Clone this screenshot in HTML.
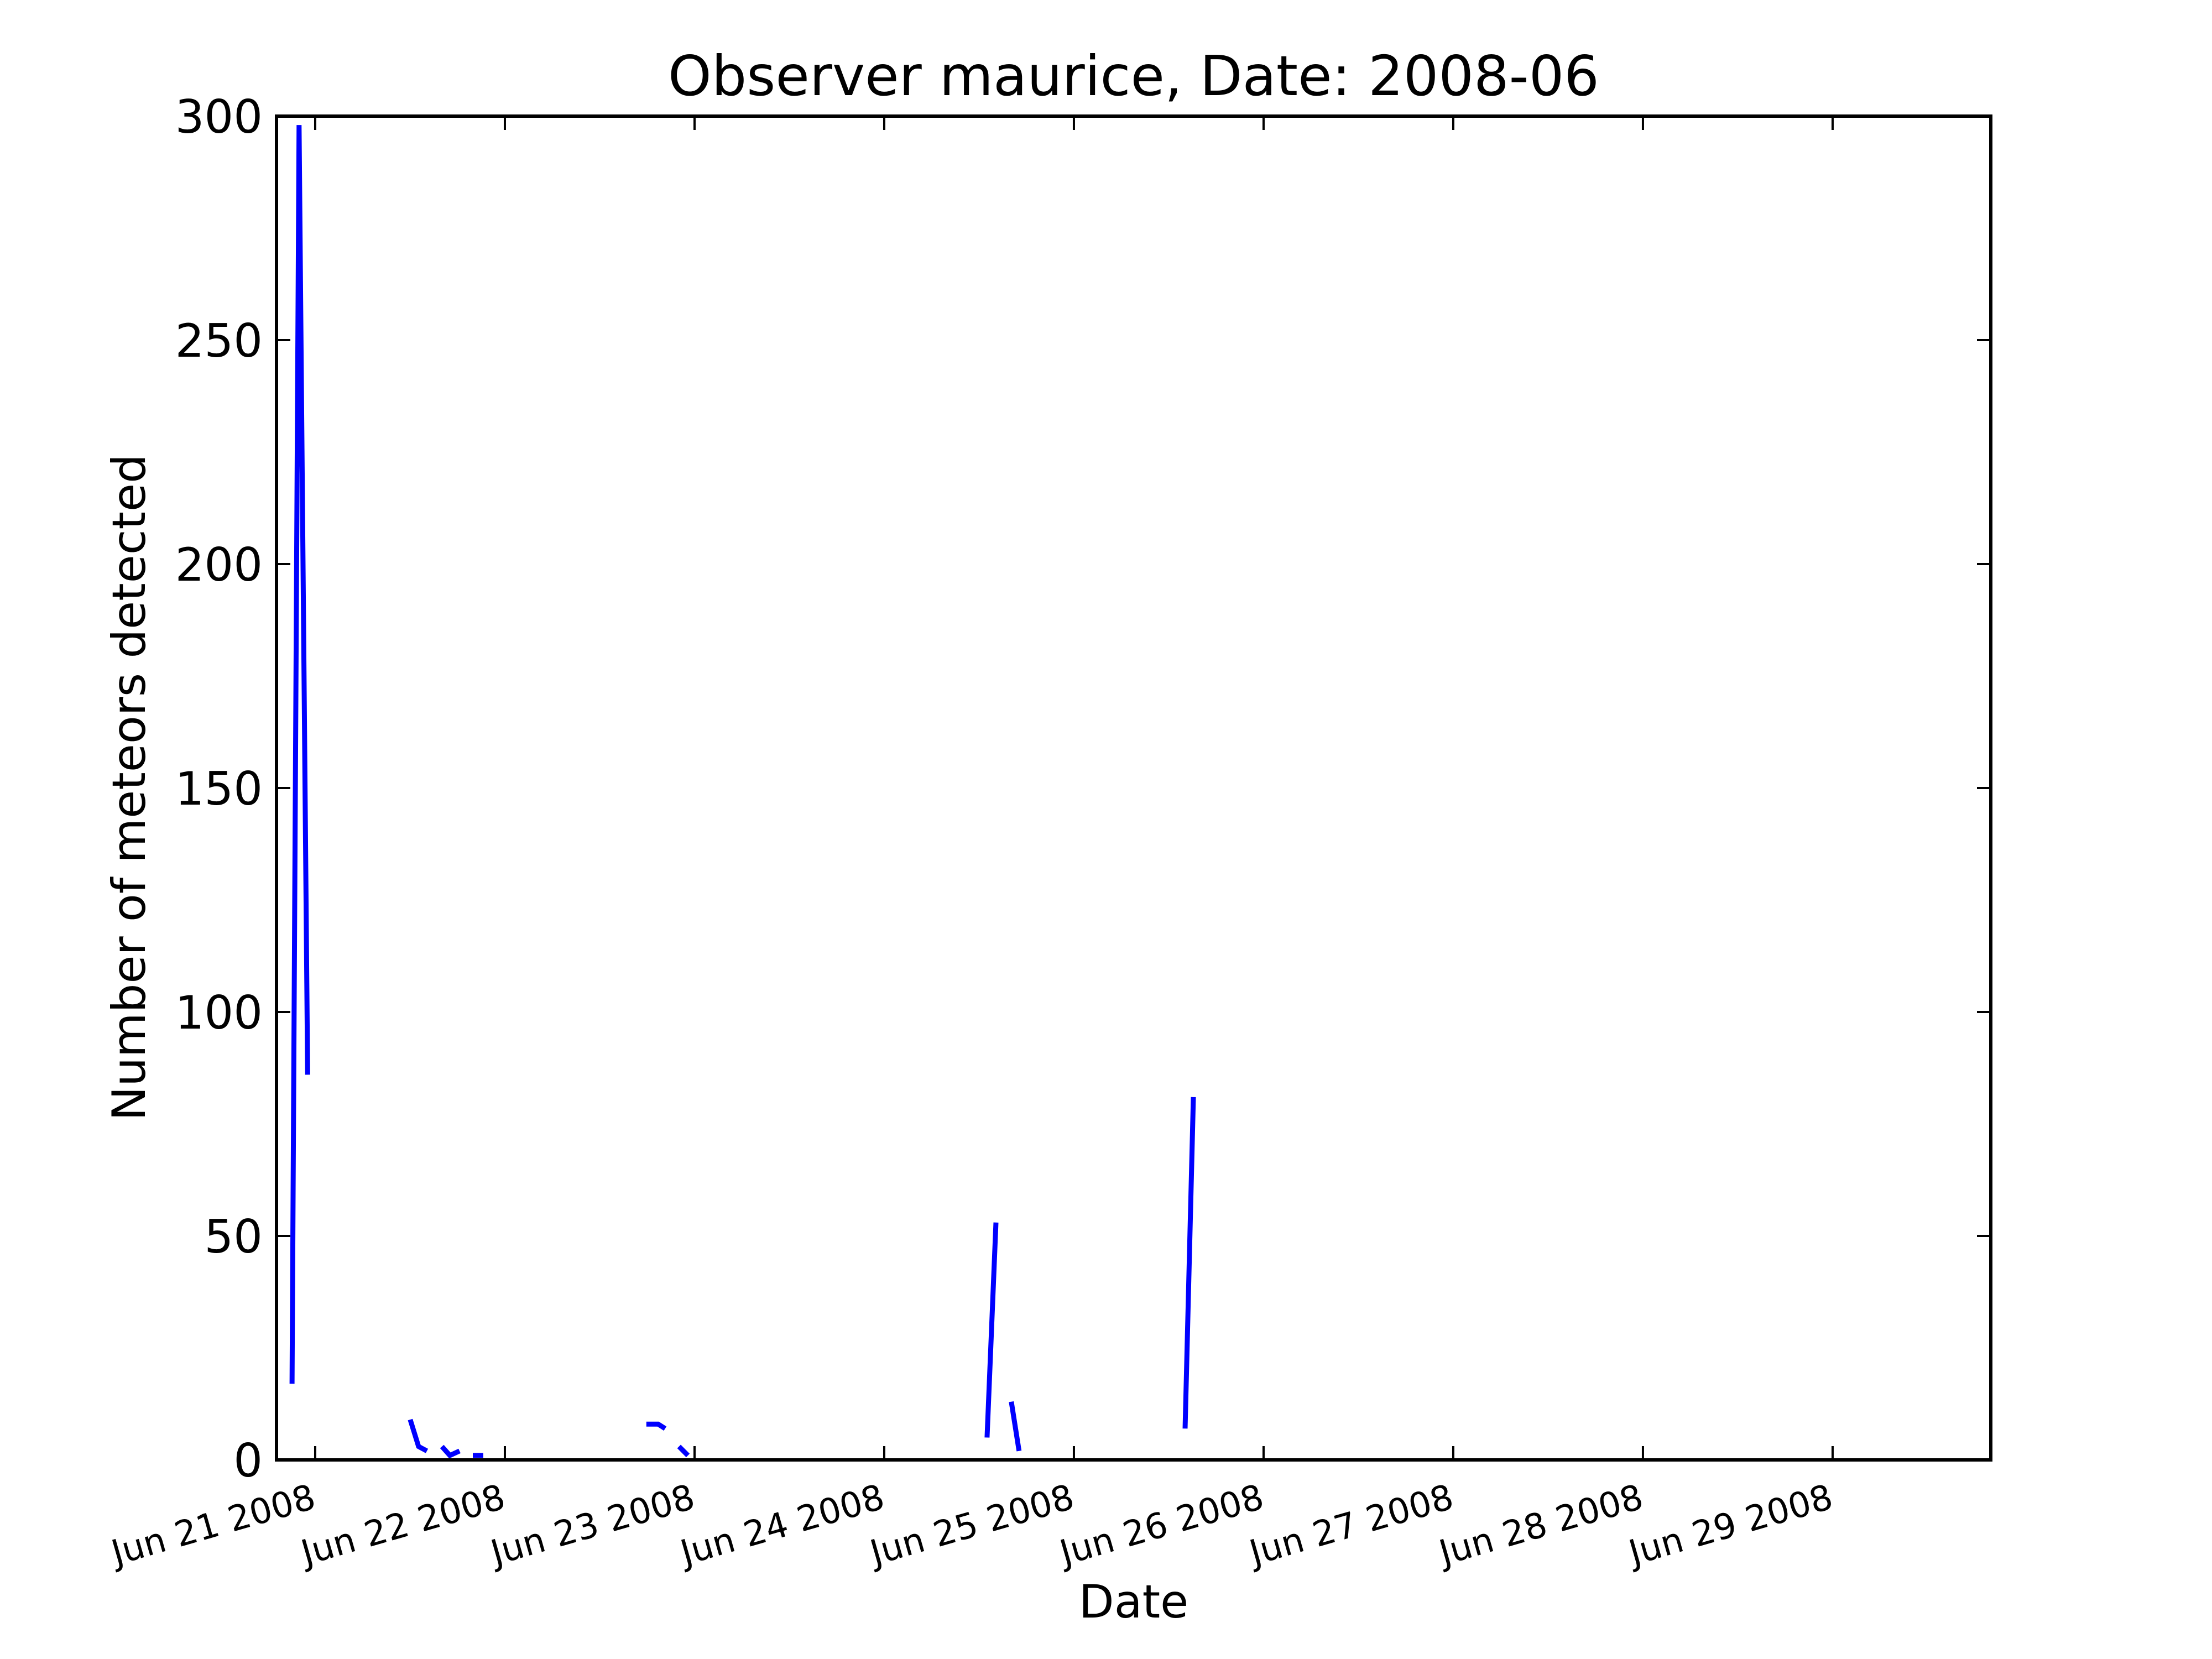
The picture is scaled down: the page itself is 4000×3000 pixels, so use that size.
<!DOCTYPE html>
<html><head><meta charset="utf-8">
<style>
html,body{margin:0;padding:0;background:#fff;}
svg{display:block;font-family:"DejaVu Sans","Liberation Sans",sans-serif;}
</style></head>
<body>
<svg id="chart" width="4000" height="3000" viewBox="0 0 4000 3000" xmlns="http://www.w3.org/2000/svg">
<rect x="0" y="0" width="4000" height="3000" fill="#fff"/>
<text x="2050" y="172" font-size="100" text-anchor="middle">Observer maurice, Date: 2008-06</text>
<text x="2050" y="2925" font-size="83" text-anchor="middle">Date</text>
<text x="0" y="0" font-size="83" text-anchor="middle" transform="translate(262,1424) rotate(-90)">Number of meteors detected</text>
<g id="plot"></g>
</svg>
<script>
// days since Jun 21 2008 00:00; null = gap between segments
const times  = [-0.122,-0.085,-0.040,null,0.501,0.545,0.589,null,0.668,0.710,0.761,null,0.831,0.886,null,1.746,1.808,1.845,null,1.918,1.965,null,3.542,3.589,null,3.670,3.711,null,4.586,4.630];
const counts = [17,298,86,null,9,3,2,null,3,1,2,null,1,1,null,8,8,7,null,3,1,null,5,53,null,13,2,null,7,81];
const yTicks = [0,50,100,150,200,250,300];
const xTickDays = [0,1,2,3,4,5,6,7,8];
const xTickLabels = ["Jun 21 2008","Jun 22 2008","Jun 23 2008","Jun 24 2008","Jun 25 2008","Jun 26 2008","Jun 27 2008","Jun 28 2008","Jun 29 2008"];

const L=500,R=3600,T=210,B=2640;
const xMin=-0.204,xMax=8.834,yMin=0,yMax=300;
const xs=d=>L+(d-xMin)/(xMax-xMin)*(R-L);
const ys=v=>B-(v-yMin)/(yMax-yMin)*(B-T);
const NS="http://www.w3.org/2000/svg";
const g=document.getElementById('plot');
function mk(tag,attrs){const e=document.createElementNS(NS,tag);for(const k in attrs)e.setAttribute(k,attrs[k]);g.appendChild(e);return e;}

// series
let d="",pen=false;
for(let i=0;i<times.length;i++){
  if(times[i]===null||counts[i]===null){pen=false;continue;}
  d+=(pen?"L":"M")+xs(times[i]).toFixed(1)+" "+ys(counts[i]).toFixed(1)+" ";
  pen=true;
}
const line=mk('path',{d:d,fill:'none',stroke:'#0000ff','stroke-width':9,'stroke-linejoin':'miter'});



// y ticks
yTicks.forEach(v=>{
  const y=ys(v);
  const t1=mk('line',{x1:L,x2:L+25,y1:y,y2:y,stroke:'#000','stroke-width':4});
  
  
  const t2=mk('line',{x1:R-25,x2:R,y1:y,y2:y,stroke:'#000','stroke-width':4});
  
  
  const tx=mk('text',{x:L-25,y:y+30,'font-size':83,'text-anchor':'end'});
  tx.textContent=v;
  
  
});
// x ticks
xTickDays.forEach((dd,i)=>{
  const x=xs(dd);
  const t1=mk('line',{x1:x,x2:x,y1:B,y2:B-25,stroke:'#000','stroke-width':4});
  
  
  const t2=mk('line',{x1:x,x2:x,y1:T,y2:T+25,stroke:'#000','stroke-width':4});
  
  
  const tx=mk('text',{x:0,y:0,'font-size':63,'text-anchor':'end',transform:'translate('+(x+4)+','+(B+86)+') rotate(-16)'});
  tx.textContent=xTickLabels[i];
  
  
});
// frame
const fr=mk('rect',{x:L,y:T,width:R-L,height:B-T,fill:'none',stroke:'#000','stroke-width':6});


</script>
</body></html>
